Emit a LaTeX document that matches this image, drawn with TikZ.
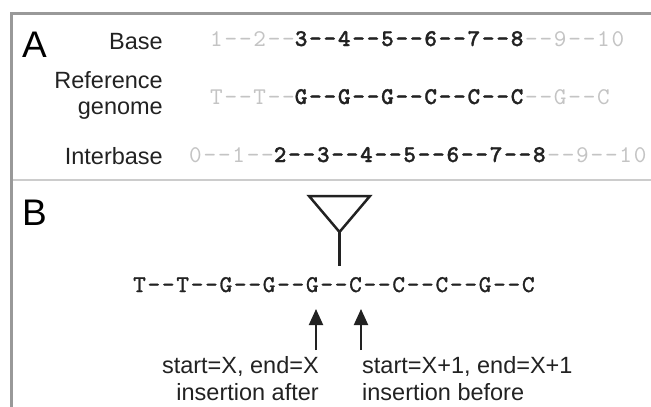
\documentclass[tikz,border=0pt]{standalone}
\usepackage{fontspec}
\setmainfont{Liberation Sans}
\newfontfamily\seqfont{lmmono10-regular.otf}[BoldFont=lmmonolt10-bold.otf, BoldFeatures={FakeBold=1.2}, LetterSpace=7.5]
\newfontfamily\seqmidfont{lmmono10-regular.otf}[FakeBold=1.2, LetterSpace=7.5]
\usetikzlibrary{arrows.meta}
\definecolor{framegray}{HTML}{999999}
\definecolor{rulegray}{HTML}{CCCCCC}
\definecolor{faint}{HTML}{C4C4C4}
\definecolor{ink}{HTML}{222222}
\newcommand{\faintpart}[1]{{\color{faint}\mdseries #1}}
\tikzset{
  panel/.style={font=\fontsize{37}{40}\selectfont, text=black, inner sep=0pt, anchor=base west},
  rowlabel/.style={font=\fontsize{23.5}{27}\selectfont, text=ink, inner sep=0pt, anchor=base east, align=right},
  seq/.style={font=\fontsize{24}{27}\selectfont\seqfont, text=ink, inner sep=0pt, anchor=base west},
  seqmid/.style={seq, font=\fontsize{24}{27}\selectfont\seqmidfont},
  note/.style={font=\fontsize{23.5}{27}\selectfont, text=ink, inner sep=0pt},
  pointer/.style={line width=2pt, draw=ink, -{Triangle[length=16pt,width=14pt]}},
}
\begin{document}
\begin{tikzpicture}[x=1pt,y=-1pt]
\useasboundingbox (0,0) rectangle (651,407);
% frame and divider
\draw[framegray, line width=3pt] (11.5,407) -- (11.5,13.5) -- (651,13.5);
\draw[rulegray, line width=2pt] (13,180) -- (651,180);

% panel A
\node[panel] (labA) at (22,57) {A};
\node[rowlabel] (lbase) at (163,49) {Base};
\node[rowlabel] (lref) at (163,88) {Reference};
\node[rowlabel] (lgen) at (163,114) {genome};
\node[rowlabel] (linter) at (163,164) {Interbase};

\node[seq] (sbase) at (210,46) {\faintpart{1--2--}\textbf{3--4--5--6--7--8}\faintpart{--9--10}};
\node[seq] (sref) at (210,104) {\faintpart{T--T--}\textbf{G--G--G--C--C--C}\faintpart{--G--C}};
\node[seq] (sinter) at (189,162) {\faintpart{0--1--}\textbf{2--3--4--5--6--7--8}\faintpart{--9--10}};

% panel B
\node[panel] (labB) at (22,225) {B};
\node[seqmid] (sB) at (133,292) {T--T--G--G--G--C--C--C--G--C};

% insertion marker
\draw[ink, line width=2.5pt, line join=miter] (309,196) -- (370,196) -- (339.5,232) -- cycle;
\coordinate (stemtop) at (339.5,232);
\coordinate (stembot) at (339.5,266);
\draw[ink, line width=2.5pt] (stemtop) -- (stembot);

% arrows and their captions
\coordinate (afterTail) at (316,350);
\coordinate (afterHead) at (316,309);
\coordinate (beforeTail) at (361,350);
\coordinate (beforeHead) at (361,309);
\draw[pointer] (afterTail) -- (afterHead);
\draw[pointer] (beforeTail) -- (beforeHead);

\node[note, anchor=base east, align=right] (nafter) at (319,373) {start=X, end=X};
\node[note, anchor=base east] (nafter2) at (319,400) {insertion after};
\node[note, anchor=base west] (nbefore) at (362,373) {start=X+1, end=X+1};
\node[note, anchor=base west] (nbefore2) at (362,400) {insertion before};
\end{tikzpicture}
\end{document}
